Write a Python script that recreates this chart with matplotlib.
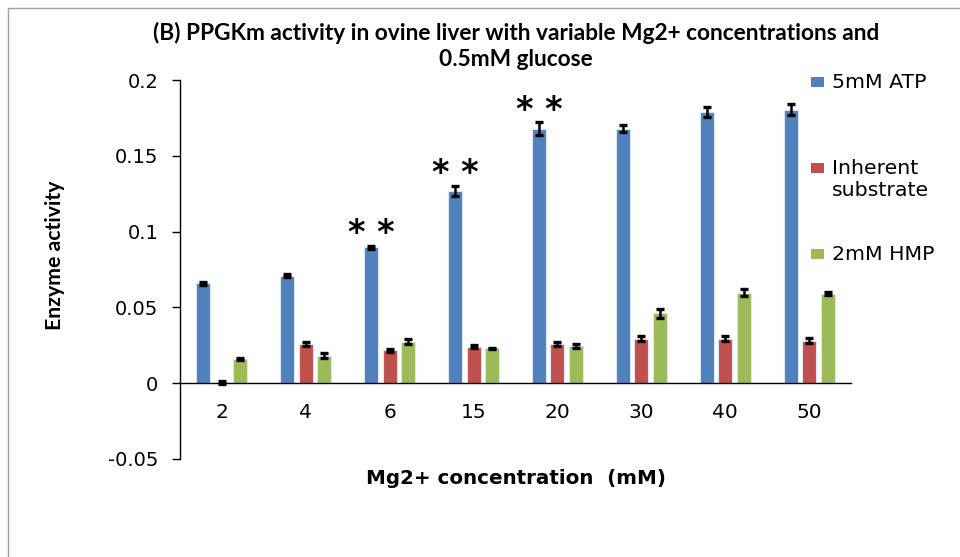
import matplotlib
matplotlib.use("Agg")
import matplotlib.pyplot as plt
from matplotlib.patches import Rectangle
import numpy as np

# Data
categories = ["2", "4", "6", "15", "20", "30", "40", "50"]
series_names = ["5mM ATP", "Inherent\nsubstrate", "2mM HMP"]
atp = [0.066, 0.071, 0.0897, 0.127, 0.168, 0.168, 0.179, 0.1805]
inherent = [0.0005, 0.026, 0.0217, 0.0239, 0.026, 0.0294, 0.0294, 0.028]
hmp = [0.016, 0.0182, 0.0274, 0.023, 0.0246, 0.046, 0.0597, 0.059]
atp_err = [0.001, 0.001, 0.001, 0.0033, 0.0042, 0.0024, 0.0035, 0.0035]
inherent_err = [0.001, 0.0015, 0.001, 0.001, 0.0015, 0.0015, 0.0015, 0.0015]
hmp_err = [0.0005, 0.0015, 0.0015, 0.0005, 0.0015, 0.0029, 0.0022, 0.001]
significant = ["6", "15", "20"]
yticks = [-0.05, 0, 0.05, 0.1, 0.15, 0.2]
ytick_labels = ["-0.05", "0", "0.05", "0.1", "0.15", "0.2"]

colors = ["#4F81BD", "#C0504D", "#9BBB59"]
narrow = ["Lato", "DejaVu Sans"]
plt.rcParams["font.family"] = ["DejaVu Sans"]

W, H = 960, 557
fig = plt.figure(figsize=(W / 100, H / 100), dpi=100)
ax = fig.add_axes([180 / W, 1 - 459 / H, (851 - 180) / W, (459 - 80) / H])


def fy(py):
    return 1 - py / H


x = np.arange(len(categories))
width = 0.167
pitch = 0.22
values = [atp, inherent, hmp]
errs = [atp_err, inherent_err, hmp_err]
for i, (vals, err, col) in enumerate(zip(values, errs, colors)):
    ax.bar(x + (i - 1) * pitch, vals, width, color=col, edgecolor="#dce6f2",
           linewidth=0.8, zorder=2)
    ax.errorbar(x + (i - 1) * pitch, vals, yerr=err, fmt="none", ecolor="black",
                elinewidth=1.8, capsize=2.6, capthick=2.4, zorder=3)

for cat in significant:
    k = categories.index(cat)
    ax.text(x[k] - pitch, atp[k] + atp_err[k] - 0.003, "* *", ha="center", va="bottom",
            fontsize=24, fontweight="bold", color="black")

ax.spines["top"].set_visible(False)
ax.spines["right"].set_visible(False)
ax.spines["bottom"].set_position(("data", 0))
ax.spines["bottom"].set_linewidth(1)
ax.spines["left"].set_linewidth(1)

ax.set_xlim(-0.5, len(categories) - 0.5)
ax.set_ylim(-0.05, 0.2)
ax.set_xticks(x)
ax.set_xticklabels(categories)
ax.set_yticks(yticks)
ax.set_yticklabels(ytick_labels)
ax.tick_params(axis="x", length=0, pad=14, labelsize=14.5)
ax.tick_params(axis="y", length=5.5, width=1, pad=10, direction="out", labelsize=14)

xl = fig.text(516 / W, fy(478), "Mg2+ concentration  (mM)", ha="center", va="center",
              fontsize=14, fontweight="bold")
yl = fig.text(55 / W, fy(255), "Enzyme activity", ha="center", va="center",
              rotation=90, fontsize=15, fontweight="bold", family=narrow)
t1 = fig.text(516 / W, fy(33),
              "(B) PPGKm activity in ovine liver with variable Mg2+ concentrations and",
              ha="center", va="center", fontsize=14, fontweight="bold", family=narrow)
t2 = fig.text(516 / W, fy(60), "0.5mM glucose", ha="center", va="center",
              fontsize=14, fontweight="bold", family=narrow)

# legend entries stacked on the right
legend_y = [82, 168, 254]
leg_texts = []
for name, col, yy in zip(series_names, colors, legend_y):
    fig.patches.append(Rectangle((811 / W, fy(yy + 5)), 13 / W, 10 / H,
                                 transform=fig.transFigure, facecolor=col,
                                 edgecolor="none"))
    for j, line in enumerate(name.split("\n")):
        leg_texts.append(fig.text(832 / W, fy(yy + 23 * j), line, ha="left",
                                  va="center", fontsize=13.5))

# size text to fit its slot
fig.canvas.draw()
renderer = fig.canvas.get_renderer()


def fit(txt, target, vertical=False):
    bb = txt.get_window_extent(renderer)
    size = bb.height if vertical else bb.width
    txt.set_fontsize(txt.get_fontsize() * target / size)


fit(t1, 732)
t2.set_fontsize(t1.get_fontsize())
fit(yl, 150, vertical=True)
fit(xl, 300)
s = leg_texts[0]
fit(s, 95)
for t in leg_texts[1:]:
    t.set_fontsize(s.get_fontsize())

# chart-area frame
fig.patches.append(Rectangle((8 / W, -0.05), 1.1, fy(8) + 0.05,
                             transform=fig.transFigure, facecolor="none",
                             edgecolor="#a0a0a0", linewidth=1))

fig.savefig("out.png", dpi=100)
